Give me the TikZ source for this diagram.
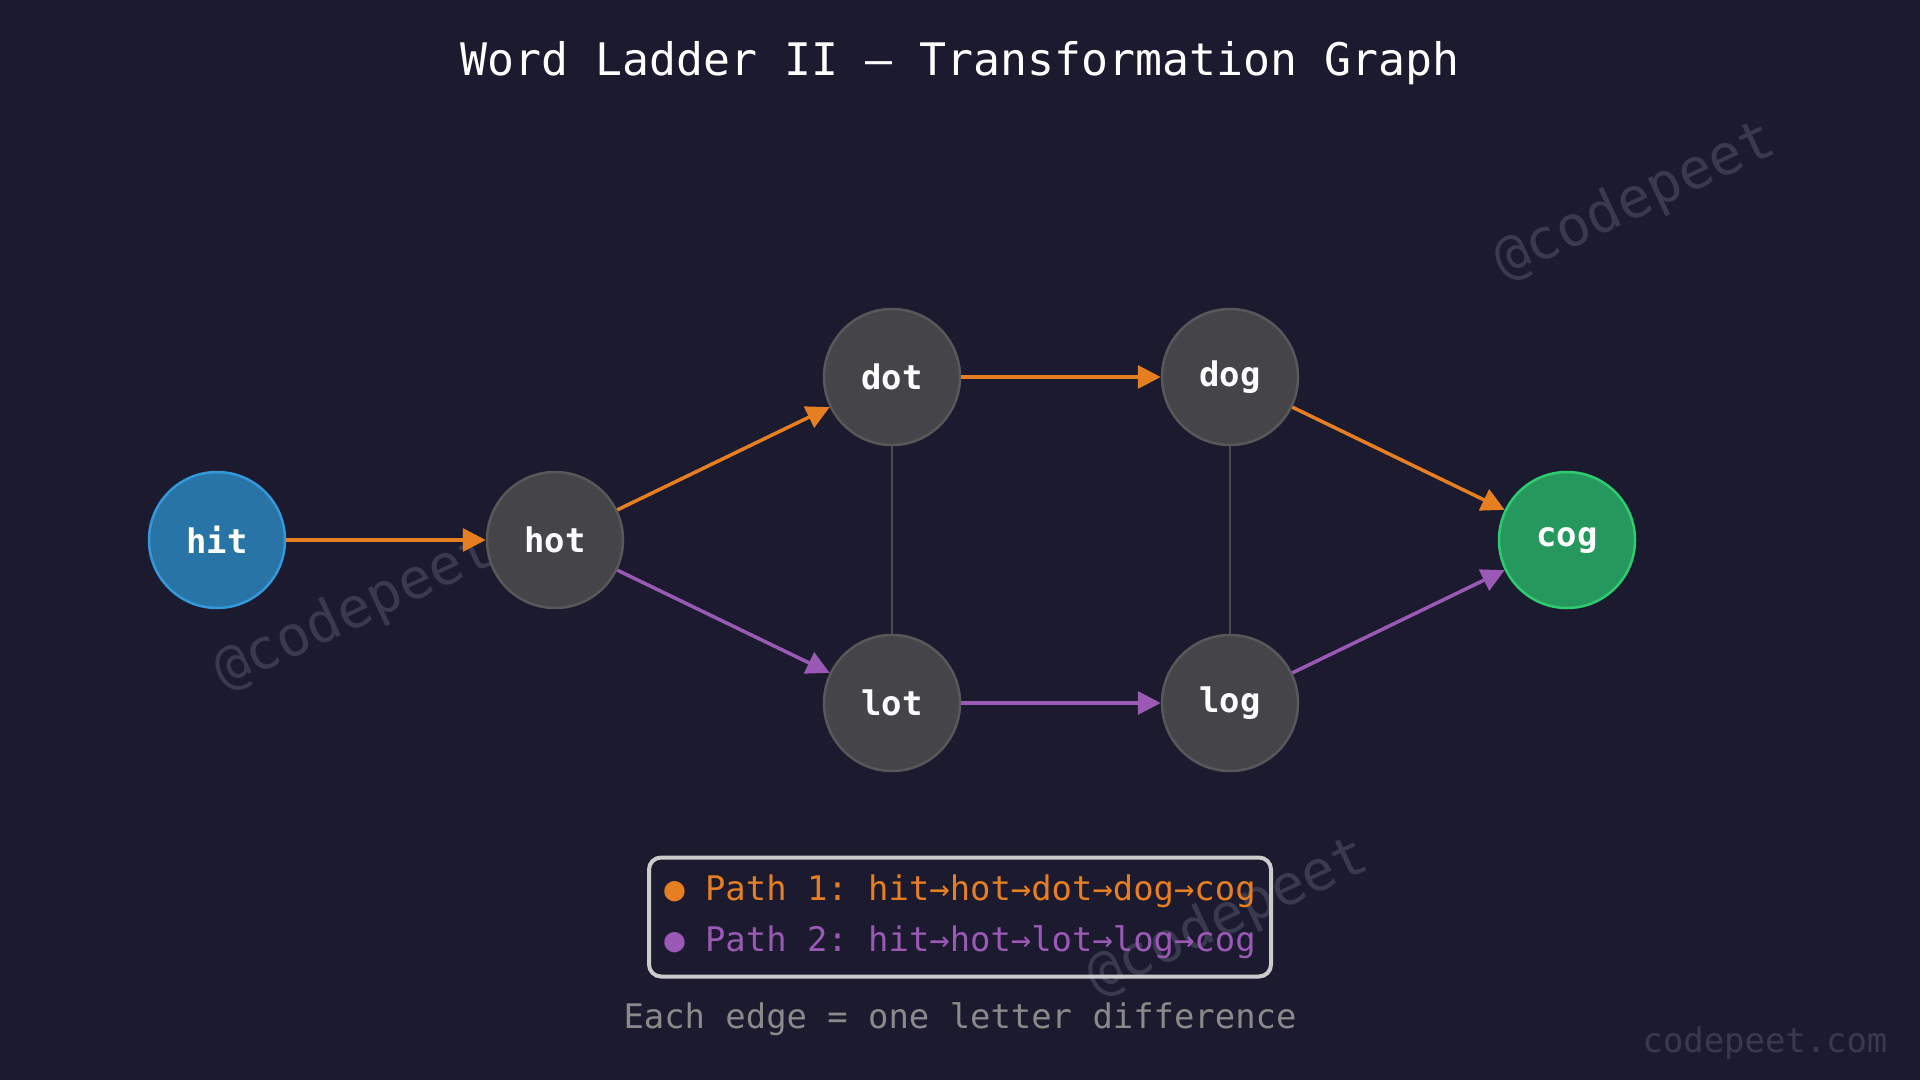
\documentclass[tikz,border=0pt]{standalone}
\usepackage{fontspec}
\setmonofont{DejaVu Sans Mono}
\usetikzlibrary{arrows.meta}
\definecolor{Night}{HTML}{1B1A2E}
\definecolor{Amber}{HTML}{E67E22}
\definecolor{Orchid}{HTML}{9B59B6}
\definecolor{Slate}{HTML}{444449}
\definecolor{SlateEdge}{HTML}{58585A}
\definecolor{Sky}{HTML}{2874A6}
\definecolor{SkyEdge}{HTML}{3498DB}
\definecolor{Leaf}{HTML}{27985D}
\definecolor{LeafEdge}{HTML}{2ECC71}
\definecolor{Link}{HTML}{4A4A50}
\definecolor{Frame}{HTML}{CCCCCC}
\definecolor{Faint}{HTML}{393950}
\definecolor{Note}{HTML}{8A8A8A}
\newcommand{\figbackground}[2]{
  \path[use as bounding box] (0,0) rectangle (#1,#2);
  \fill[Night] (0,0) rectangle (#1,#2);
}

\begin{document}
\begin{tikzpicture}[x=1bp,y=-1bp,
  word/.style={circle,minimum size=136bp,inner sep=0bp,line width=2.5bp,
    draw=SlateEdge,fill=Slate,text=white,
    font=\ttfamily\bfseries\fontsize{34}{34}\selectfont},
  hop/.style={line width=3.5bp,-{Triangle[length=23bp,width=23bp]}},
  watermark/.style={text=Faint,rotate=25,inner sep=0bp,
    font=\ttfamily\fontsize{56}{56}\selectfont}]
  \figbackground{1920}{1080}

  % faint signature under the graph
  \node[watermark] (wmleft) at (355,612) {@codepeet};
  \node[watermark] (wmright) at (1635,202) {@codepeet};
  \node[watermark] (wmbottom) at (1228,918) {@codepeet};

  \node[text=white,font=\ttfamily\fontsize{45}{45}\selectfont] (title)
    at (960,63) {Word Ladder II — Transformation Graph};

  \node[word,fill=Sky,draw=SkyEdge] (hit) at (217,540) {hit};
  \node[word] (hot) at (555,540) {hot};
  \node[word] (dot) at (892,377) {dot};
  \node[word] (dog) at (1230,377) {dog};
  \node[word] (lot) at (892,703) {lot};
  \node[word] (log) at (1230,703) {log};
  \node[word,fill=Leaf,draw=LeafEdge] (cog) at (1567,540) {cog};

  \draw[Link,line width=1.8bp] (dot) -- (lot);
  \draw[Link,line width=1.8bp] (dog) -- (log);
  \draw[hop,Amber] (hit) -- (hot);
  \draw[hop,Amber] (hot) -- (dot);
  \draw[hop,Amber] (dot) -- (dog);
  \draw[hop,Amber] (dog) -- (cog);
  \draw[hop,Orchid] (hot) -- (lot);
  \draw[hop,Orchid] (lot) -- (log);
  \draw[hop,Orchid] (log) -- (cog);

  \node[draw=Frame,line width=4bp,rounded corners=12bp,minimum width=622bp,
    minimum height=119bp,align=left,
    font=\ttfamily\fontsize{34}{51}\selectfont] (legend) at (960,917)
    {\textcolor{Amber}{● Path 1: hit→hot→dot→dog→cog}\\
     \textcolor{Orchid}{● Path 2: hit→hot→lot→log→cog}};

  \node[text=Note,font=\ttfamily\fontsize{34}{34}\selectfont] (caption)
    at (960,1019) {Each edge = one letter difference};
  \node[text=Faint,font=\ttfamily\fontsize{34}{34}\selectfont] (site)
    at (1765,1043) {codepeet.com};
\end{tikzpicture}
\end{document}
